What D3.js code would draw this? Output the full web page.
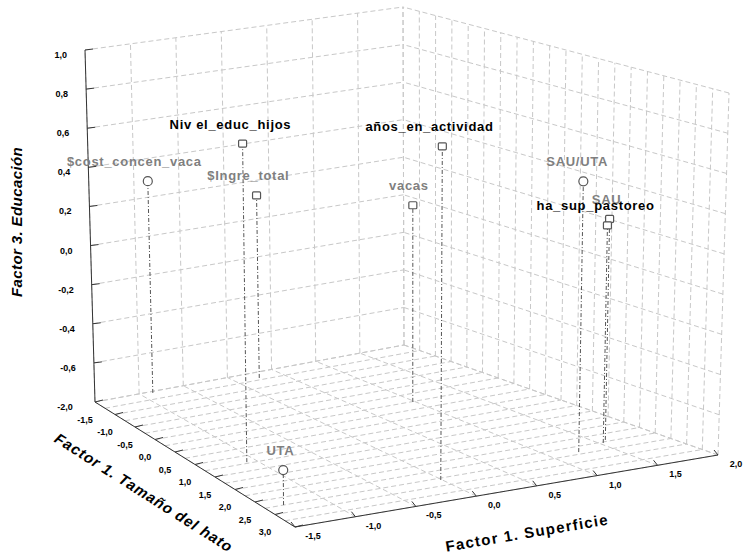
<!DOCTYPE html>
<html><head><meta charset="utf-8">
<script src="https://cdn.jsdelivr.net/npm/d3@7"></script>
<style>body{margin:0;background:#fff;} svg{display:block;}</style>
</head><body><svg id="c" width="745" height="559"></svg>
<script>
// ---------------- data ----------------
const names   = ["$cost_concen_vaca","Niv el_educ_hijos","$Ingre_total","años_en_actividad","vacas","SAU/UTA","SAU","ha_sup_pastoreo","UTA"];
const xVals   = [-0.87, -1.09,  0.25, -0.01, 0.98, 1.24, 1.59, 1.53, -1.34];   // Factor 1. Superficie
const yVals   = [-1.95,  0.71, -1.81,  2.31, -0.24, 2.18, 1.95, 2.03, 2.25];   // Factor 1. Tamaño del hato
const zVals   = [ 0.29,  0.78,  0.15,  0.84,  0.21, 0.55, 0.31, 0.29, -0.63];  // Factor 3. Educación
const tones   = ["gray","black","gray","black","gray","gray","gray","black","gray"];
const shapes  = ["circle","square","square","square","square","circle","square","square","circle"];
const xTicks  = [-1.5,-1,-0.5,0,0.5,1,1.5,2];
const yTicks  = [-2,-1.5,-1,-0.5,0,0.5,1,1.5,2,2.5,3];
const yGrid   = d3.range(-2, 3.001, 0.25);
const zTicks  = [-0.6,-0.4,-0.2,0,0.2,0.4,0.6,0.8,1.0];
const xTitle = "Factor 1. Superficie", yTitle = "Factor 1. Tamaño del hato", zTitle = "Factor 3. Educación";

// ---------------- projection ----------------
const K = {A:[95,402],B:[295,527],C:[718,455],D:[404,345],A2:[85,50],B2:[292,152],C2:[729,93],D2:[403,7]};
const xS = d3.scaleLinear().domain([-1.5,2]).range([0,1]);
const yS = d3.scaleLinear().domain([-2,3]).range([1,0]);
const zS = d3.scaleLinear().domain([-0.8,1.0]).range([0,1]);
function bil(p00,p10,p01,p11,u,v){
  return [0,1].map(i => (1-u)*(1-v)*p00[i] + u*(1-v)*p10[i] + (1-u)*v*p01[i] + u*v*p11[i]);
}
function P(u,v,w){
  const f = bil(K.B,K.C,K.A,K.D,u,v), t = bil(K.B2,K.C2,K.A2,K.D2,u,v);
  return [f[0]+(t[0]-f[0])*w, f[1]+(t[1]-f[1])*w];
}
const fmt = v => d3.format(".1f")(v).replace(".",",").replace("−","-");
const svg = d3.select("#c");
const line = d3.line();

const grid = svg.append("g").attr("fill","none").attr("stroke","#c8c8c8").attr("stroke-width",1).attr("stroke-dasharray","5,3");
function seg(g,a,b){ g.append("path").attr("d", line([a,b])); }
const zAll = [zS.domain()[0], ...zTicks];
// floor
xTicks.forEach(t => seg(grid, P(xS(t),0,0), P(xS(t),1,0)));
yGrid.forEach(t => seg(grid, P(0,yS(t),0), P(1,yS(t),0)));
// left wall (back, v=1)
xTicks.forEach(t => seg(grid, P(xS(t),1,0), P(xS(t),1,1)));
zAll.forEach(t => seg(grid, P(0,1,zS(t)), P(1,1,zS(t))));
// right wall (u=1)
yGrid.forEach(t => seg(grid, P(1,yS(t),0), P(1,yS(t),1)));
zAll.forEach(t => seg(grid, P(1,0,zS(t)), P(1,1,zS(t))));

// axes
const ax = svg.append("g").attr("stroke","#333").attr("stroke-width",1).attr("fill","none");
seg(ax, P(0,1,0), P(0,1,1));
seg(ax, P(0,1,0), P(0,0,0));
seg(ax, P(0,0,0), P(1,0,0));
zTicks.forEach(t => { const a=P(0,1,zS(t)); seg(ax, a, [a[0]+8,a[1]-1]); });
xTicks.forEach(t => { const a=P(xS(t),0,0); seg(ax, a, [a[0]-4,a[1]-5]); });
yTicks.forEach(t => { const a=P(0,yS(t),0); seg(ax, a, [a[0]+8,a[1]-2]); });

const tk = svg.append("g").attr("font-family","Liberation Sans, Arial, sans-serif").attr("font-size",9).attr("font-weight","bold").attr("fill","#000");
zTicks.forEach(t => { const a=P(0,1,zS(t)); tk.append("text").attr("x",a[0]-18).attr("y",a[1]+8).attr("text-anchor","end").text(fmt(t)); });
xTicks.forEach(t => { const a=P(xS(t),0,0); tk.append("text").attr("x",a[0]+18).attr("y",a[1]+12).attr("text-anchor","middle").text(fmt(t)); });
yTicks.forEach(t => { const a=P(0,yS(t),0); tk.append("text").attr("x",a[0]-30).attr("y",a[1]+8).attr("text-anchor","middle").text(fmt(t)); });

// titles
const tt = svg.append("g").attr("font-family","Liberation Sans, Arial, sans-serif").attr("font-size",15).attr("font-weight","bold").attr("fill","#000");
tt.append("text").attr("transform","translate(22,222) rotate(-90)").attr("text-anchor","middle").attr("font-style","italic").attr("letter-spacing",0.4).text(zTitle);
tt.append("text").attr("transform","translate(141,497) rotate(32.5)").attr("text-anchor","middle").attr("font-style","italic").attr("letter-spacing",0.9).text(yTitle);
tt.append("text").attr("transform","translate(528,538) rotate(-9.5)").attr("text-anchor","middle").attr("letter-spacing",1.3).text(xTitle);

// points
const pts = names.map((n,i) => ({n, tone:tones[i], shape:shapes[i],
  base:P(xS(xVals[i]),yS(yVals[i]),0), top:P(xS(xVals[i]),yS(yVals[i]),zS(zVals[i]))}));
const dl = svg.append("g").attr("stroke","#555").attr("stroke-width",1).attr("stroke-dasharray","4,2,1,2").attr("fill","none");
pts.forEach(p => seg(dl, p.base, p.top));
const mk = svg.append("g").attr("stroke","#555").attr("stroke-width",1.2).attr("fill","#fff");
pts.forEach(p => {
  if (p.shape==="circle") mk.append("circle").attr("cx",p.top[0]).attr("cy",p.top[1]).attr("r",4.5);
  else mk.append("rect").attr("x",p.top[0]-4).attr("y",p.top[1]-3.5).attr("width",8).attr("height",7).attr("rx",1);
});
const lb = svg.append("g").attr("font-family","Liberation Sans, Arial, sans-serif").attr("font-size",13).attr("font-weight","bold").attr("letter-spacing",0.7);
pts.forEach(p => {
  const t = lb.append("text").attr("y",p.top[1]-15).attr("fill", p.tone==="gray" ? "#7f7f7f" : "#000").text(p.n);
  const w = t.node().getComputedTextLength();
  t.attr("x", p.top[0] - 0.6*w);
});
</script></body></html>
